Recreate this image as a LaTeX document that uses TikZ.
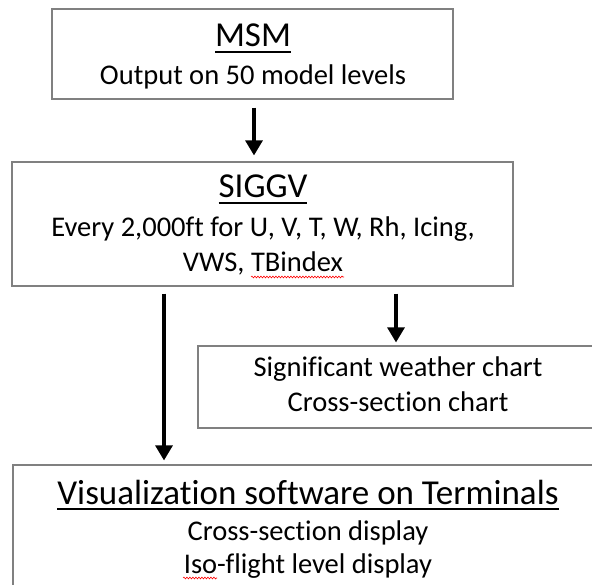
\documentclass[tikz,border=0pt]{standalone}
\usepackage{fontspec}
\setmainfont{Carlito}[Ligatures=CommonOff]
\usetikzlibrary{arrows.meta}
\usetikzlibrary{decorations.pathmorphing}
\definecolor{boxgray}{RGB}{128,128,128}
\newcommand{\ttlbar}[1]{\setbox0\hbox{#1}\rlap{\vrule width\wd0 height -3.8pt depth 5.6pt}\box0}

\begin{document}
\begin{tikzpicture}[x=1pt, y=-1pt,
    box/.style={draw=boxgray, line width=1.2pt, inner sep=0pt},
    ttl/.style={anchor=base, inner sep=0pt, font=\fontsize{35}{40}\selectfont},
    txt/.style={anchor=base, inner sep=0pt, font=\fontsize{28.5}{34}\selectfont},
    flow/.style={line width=3.2pt, -{Triangle[width=17pt,length=15pt]}},
    spell/.style={red, line width=0.6pt, decorate, decoration={snake, amplitude=0.9pt, segment length=3pt}}]
    \useasboundingbox (0,0) rectangle (592,585);
    \clip (0,0) rectangle (592,585);
    % boxes
    \node[box, minimum width=401pt, minimum height=90pt] (msm) at (252.5,54) {};
    \node[box, minimum width=501pt, minimum height=124pt] (siggv) at (262.5,224) {};
    \node[box, minimum width=400pt, minimum height=82pt] (sigwx) at (398,387) {};
    \node[box, minimum width=590pt, minimum height=145pt] (vis) at (308,537.5) {};
    % texts
    \node[ttl] (msmttl) at (253,47) {\ttlbar{MSM}};
    \node[txt] (msmtxt) at (253,85) {Output on 50 model levels};
    \node[ttl] (siggvttl) at (263,198) {\ttlbar{SIGGV}};
    \node[txt] (siggvtxta) at (263,237) {Every 2,000ft for U, V, T, W, Rh, Icing,};
    \node[txt] (siggvtxtb) at (263,272) {VWS, TBindex};
    \node[txt] (sigwxtxta) at (398,377) {Significant weather chart};
    \node[txt] (sigwxtxtb) at (398,411) {Cross-section chart};
    \node[ttl] (visttl) at (308,504) {\ttlbar{Visualization software on Terminals}};
    \node[txt] (vistxta) at (308,540) {Cross-section display};
    \node[txt] (vistxtb) at (308,573) {Iso-flight level display};
    % spell check marks
    \draw[spell] (251,277) -- (344,277);
    \draw[spell] (183,578) -- (217,578);
    % arrows
    \coordinate (c1) at (254,0);
    \coordinate (c2) at (164,0);
    \coordinate (c3) at (396,0);
    \draw[flow, shorten <=8pt, shorten >=6pt] (msm.south -| c1) -- (siggv.north -| c1);
    \draw[flow, shorten <=7pt, shorten >=4pt] (siggv.south -| c2) -- (vis.north -| c2);
    \draw[flow, shorten <=7pt, shorten >=3pt] (siggv.south -| c3) -- (sigwx.north -| c3);
\end{tikzpicture}
\end{document}
